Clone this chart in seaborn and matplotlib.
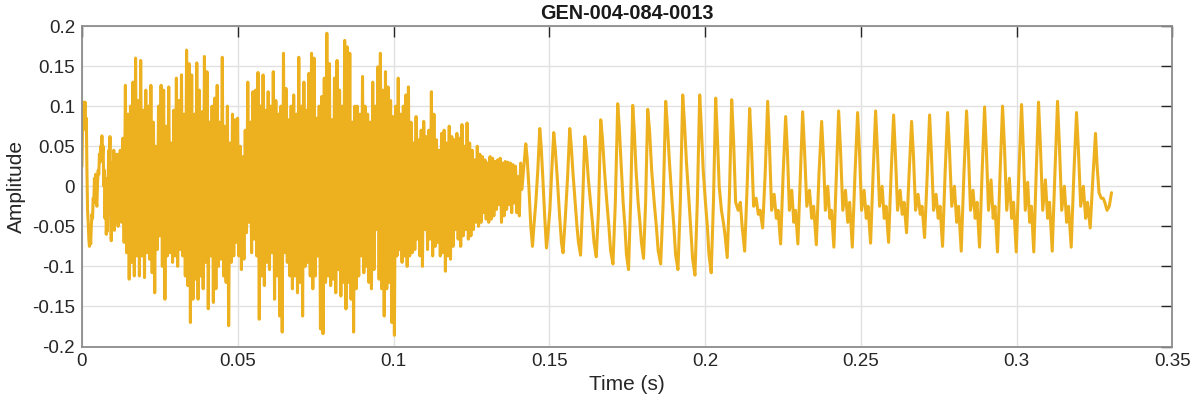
import numpy as np
import pandas as pd
import matplotlib
matplotlib.use("Agg")
import matplotlib.pyplot as plt
import seaborn as sns

# ---------------- data ----------------
TITLE = "GEN-004-084-0013"
X_LABEL = "Time (s)"
Y_LABEL = "Amplitude"
x_ticks = [0, 0.05, 0.1, 0.15, 0.2, 0.25, 0.3, 0.35]
x_tick_labels = ["0", "0.05", "0.1", "0.15", "0.2", "0.25", "0.3", "0.35"]
y_ticks = [-0.2, -0.15, -0.1, -0.05, 0, 0.05, 0.1, 0.15, 0.2]
y_tick_labels = ["-0.2", "-0.15", "-0.1", "-0.05", "0", "0.05", "0.1", "0.15", "0.2"]

# onset (0 - 0.012 s), one value every 0.2 ms
onset_step = 0.0002
onset_vals = [0.025, 0.08, 0.07, 0.105, 0.09, 0.105, 0.075, 0.085, 0.02, -0.03,
              -0.045, -0.065, -0.075, -0.06, -0.072, -0.05, -0.035, -0.04, -0.015, -0.02,
              0.01, -0.005, 0.015, -0.02, -0.025, 0.005, 0.02, 0.015, 0.04, 0.03,
              0.05, 0.045, 0.063, 0.04, 0.05, 0.0, 0.02, -0.04, 0.01, -0.06,
              -0.04, -0.056, 0.01, 0.045, 0.03, 0.062, -0.02, -0.068, 0.01, 0.03,
              -0.04, 0.045, -0.055, 0.035, -0.045, 0.04, -0.04, 0.03, -0.05, 0.04,
              -0.04]

# noisy burst (0.0123 - 0.141 s): successive positive peaks and negative troughs
burst_start = 0.0123
burst_end = 0.1412
burst_peaks = [0.045, 0.06, 0.126, 0.09, 0.10, 0.13, 0.16, 0.107, 0.157, 0.095,
               0.12, 0.10, 0.126, 0.08, 0.05, 0.10, 0.126, 0.12, 0.075, 0.124,
               0.054, 0.095, 0.135, 0.107, 0.139, 0.09, 0.17, 0.153, 0.139, 0.09,
               0.154, 0.12, 0.093, 0.162, 0.143, 0.08, 0.10, 0.11, 0.126, 0.08,
               0.161, 0.075, 0.10, 0.054, 0.09, 0.083, 0.085, 0.05, 0.037, 0.07, 0.13, 0.08,
               0.118, 0.12, 0.142, 0.10, 0.139, 0.095, 0.118, 0.10, 0.143, 0.107,
               0.09, 0.10, 0.166, 0.122, 0.083, 0.10, 0.114, 0.09, 0.161, 0.10,
               0.13, 0.095, 0.141, 0.166, 0.16, 0.085, 0.10, 0.112, 0.135, 0.191,
               0.153, 0.083, 0.135, 0.157, 0.12, 0.10, 0.182, 0.174, 0.166, 0.08,
               0.10, 0.10, 0.09, 0.137, 0.10, 0.09, 0.08, 0.13, 0.10, 0.149,
               0.166, 0.12, 0.143, 0.124, 0.107, 0.087, 0.10, 0.135, 0.09, 0.10,
               0.114, 0.124, 0.08, 0.054, 0.087, 0.058, 0.07, 0.081, 0.062, 0.07,
               0.118, 0.09, 0.058, 0.045, 0.066, 0.07, 0.054, 0.075, 0.062, 0.058,
               0.066, 0.06, 0.077, 0.05, 0.079, 0.054, 0.045, 0.033, 0.05, 0.04, 0.037, 0.033,
               0.029, 0.037, 0.035, 0.031, 0.033, 0.035, 0.029, 0.031, 0.03, 0.029, 0.027, 0.025,
               0.012, 0.029]
burst_troughs = [-0.045, -0.07, -0.083, -0.116, -0.095, -0.112, -0.087, -0.112, -0.087, -0.114,
                 -0.083, -0.091, -0.108, -0.133, -0.079, -0.062, -0.10, -0.141, -0.087, -0.083,
                 -0.095, -0.087, -0.10, -0.079, -0.087, -0.112, -0.124, -0.17, -0.141, -0.116,
                 -0.141, -0.112, -0.128, -0.095, -0.153, -0.087, -0.145, -0.128, -0.10, -0.091,
                 -0.112, -0.12, -0.174, -0.095, -0.087, -0.07, -0.087, -0.104, -0.091, -0.058,
                 -0.045, -0.083, -0.066, -0.087, -0.166, -0.112, -0.124, -0.095, -0.104, -0.083,
                 -0.141, -0.112, -0.162, -0.182, -0.083, -0.095, -0.112, -0.128, -0.112, -0.133,
                 -0.12, -0.162, -0.10, -0.095, -0.112, -0.128, -0.112, -0.087, -0.178, -0.184,
                 -0.12, -0.112, -0.124, -0.116, -0.133, -0.104, -0.137, -0.12, -0.153, -0.12,
                 -0.141, -0.182, -0.128, -0.112, -0.087, -0.108, -0.10, -0.12, -0.128, -0.104,
                 -0.054, -0.116, -0.128, -0.162, -0.128, -0.12, -0.17, -0.186, -0.087, -0.079,
                 -0.095, -0.087, -0.10, -0.087, -0.083, -0.079, -0.066, -0.087, -0.10, -0.054,
                 -0.079, -0.066, -0.087, -0.075, -0.07, -0.087, -0.083, -0.106, -0.087, -0.091,
                 -0.075, -0.054, -0.066, -0.075, -0.062, -0.054, -0.066, -0.062, -0.054, -0.045,
                 -0.05, -0.045, -0.033, -0.041, -0.045, -0.041, -0.037, -0.029, -0.023, -0.045,
                 -0.037, -0.029, -0.023, -0.033, -0.021, -0.033, -0.037, -0.004]

# voiced part: one entry per pitch cycle, values at fixed points of each cycle
cycle_peak_times = [0.14244, 0.14693, 0.15142, 0.15656, 0.16137, 0.16650, 0.17195, 0.17677,
                    0.18158, 0.18735, 0.19281, 0.19826, 0.20339, 0.20853, 0.21430, 0.22008,
                    0.22585, 0.23130, 0.23740, 0.24285, 0.24895, 0.25472, 0.26050, 0.26627,
                    0.27205, 0.27782, 0.28391, 0.28969, 0.29546, 0.30156, 0.30701, 0.31311,
                    0.31920, 0.32530]
signal_end_time = 0.33043
signal_end_val = -0.008
cycle_phase = [0.0, 0.10, 0.22, 0.36, 0.48, 0.58, 0.72, 0.86]
cycle_peak = [0.053, 0.072, 0.067, 0.072, 0.062, 0.083, 0.103, 0.101, 0.096, 0.106,
              0.114, 0.114, 0.110, 0.108, 0.097, 0.106, 0.087, 0.093, 0.081, 0.094,
              0.092, 0.094, 0.089, 0.081, 0.089, 0.092, 0.094, 0.099, 0.100, 0.102,
              0.105, 0.106, 0.092, 0.066]
cycle_fall = [0.035, 0.05, 0.045, 0.05, 0.045, 0.06, 0.075, 0.07, 0.07, 0.075,
              0.08, 0.075, 0.065, 0.06, 0.05, 0.05, 0.045, 0.045, 0.04, 0.045,
              0.045, 0.045, 0.04, 0.04, 0.04, 0.045, 0.045, 0.045, 0.05, 0.05,
              0.05, 0.05, 0.045, 0.025]
cycle_shoulder = [0.0, 0.01, 0.01, 0.015, 0.01, 0.02, 0.03, 0.02, 0.02, 0.03,
                  0.03, 0.02, 0.0, -0.02, -0.025, -0.03, -0.03, -0.025, -0.03, -0.03,
                  -0.03, -0.025, -0.03, -0.03, -0.03, -0.025, -0.03, -0.03, -0.03, -0.03,
                  -0.03, -0.03, -0.025, -0.008]
cycle_bump = [-0.05, -0.04, -0.035, -0.02, -0.02, -0.02, -0.02, -0.02, -0.02, -0.015,
              -0.015, -0.02, -0.03, -0.03, -0.015, -0.01, -0.005, -0.005, 0.0, -0.005,
              -0.005, 0.0, -0.005, -0.01, -0.01, 0.0, -0.005, 0.008, 0.01, 0.005,
              0.008, 0.0, 0.0, -0.015]
cycle_dip = [-0.075, -0.077, -0.07, -0.05, -0.045, -0.05, -0.05, -0.045, -0.05, -0.05,
             -0.055, -0.05, -0.045, -0.02, -0.035, -0.04, -0.045, -0.04, -0.04, -0.045,
             -0.04, -0.04, -0.035, -0.035, -0.04, -0.045, -0.04, -0.04, -0.04, -0.045,
             -0.04, -0.045, -0.04, -0.015]
cycle_bump2 = [-0.05, -0.06, -0.083, -0.07, -0.07, -0.08, -0.085, -0.07, -0.08, -0.085,
               -0.09, -0.085, -0.06, -0.05, -0.03, -0.03, -0.03, -0.025, -0.03, -0.02,
               -0.025, -0.025, -0.02, -0.025, -0.025, -0.025, -0.02, -0.025, -0.02, -0.025,
               -0.02, -0.025, -0.02, -0.02]
cycle_trough = [-0.02, -0.03, -0.04, -0.086, -0.088, -0.097, -0.104, -0.090, -0.097, -0.104,
                -0.111, -0.108, -0.089, -0.081, -0.052, -0.072, -0.072, -0.073, -0.076, -0.076,
                -0.071, -0.070, -0.058, -0.064, -0.075, -0.081, -0.076, -0.082, -0.082, -0.082,
                -0.081, -0.076, -0.052, -0.03]
cycle_rise = [0.02, 0.02, 0.01, -0.02, -0.03, -0.02, -0.02, -0.02, -0.02, -0.02,
              -0.02, -0.02, -0.01, 0.0, 0.015, 0.015, 0.01, 0.015, 0.01, 0.015,
              0.015, 0.015, 0.015, 0.01, 0.015, 0.015, 0.015, 0.015, 0.015, 0.015,
              0.015, 0.015, 0.01, -0.025]

LINE_COLOR = "#EDB120"

# ---------------- assemble the waveform ----------------
t_parts, v_parts = [], []
t_parts.append(np.arange(len(onset_vals)) * onset_step)
v_parts.append(np.array(onset_vals))

# burst: strictly alternate peak / trough, evenly spaced in time
n_pairs = min(len(burst_peaks), len(burst_troughs))
vb = np.empty(2 * n_pairs)
vb[0::2] = burst_peaks[:n_pairs]
vb[1::2] = burst_troughs[:n_pairs]
tb = np.linspace(burst_start, burst_end, 2 * n_pairs)
t_parts.append(tb)
v_parts.append(vb)

cyc_arrays = [cycle_peak, cycle_fall, cycle_shoulder, cycle_bump, cycle_dip,
              cycle_bump2, cycle_trough, cycle_rise]
bounds = list(cycle_peak_times) + [signal_end_time]
ct, cv = [], []
for i in range(len(cycle_peak_times)):
    t0, t1 = bounds[i], bounds[i + 1]
    for ph, arr in zip(cycle_phase, cyc_arrays):
        ct.append(t0 + ph * (t1 - t0))
        cv.append(arr[i])
ct.append(signal_end_time)
cv.append(signal_end_val)
t_parts.append(np.array(ct))
v_parts.append(np.array(cv))

df = pd.DataFrame({"Time": np.concatenate(t_parts), "Amplitude": np.concatenate(v_parts)})

# ---------------- draw ----------------
sns.set_theme(style="white")
plt.rcParams["font.family"] = ["Liberation Sans", "DejaVu Sans"]
plt.rcParams["path.simplify"] = False

fig = plt.figure(figsize=(11.93, 4.04), dpi=100, facecolor="white")
ax = fig.add_axes([0.0687, 0.1423, 0.9141, 0.7933])
ax.set_facecolor("white")

sns.lineplot(data=df, x="Time", y="Amplitude", color=LINE_COLOR, linewidth=2.2,
             sort=False, estimator=None, ax=ax, zorder=3)

ax.set_xlim(0, 0.35)
ax.set_ylim(-0.2, 0.2)
ax.set_xticks(x_ticks)
ax.set_xticklabels(x_tick_labels)
ax.set_yticks(y_ticks)
ax.set_yticklabels(y_tick_labels)
ax.grid(True, color="#e1e1e1", linewidth=1.0, zorder=0)
ax.set_axisbelow(True)
ax.tick_params(direction="in", length=8, width=1.0, colors="#262626",
               top=True, right=True, labelsize=13.5, pad=5)
for sp in ax.spines.values():
    sp.set_visible(True)
    sp.set_color("#8c8c8c")
    sp.set_linewidth(1.3)
    sp.set_zorder(4)

ax.set_title(TITLE, fontsize=14.3, fontweight="bold", color="#1a1a1a", pad=5)
ax.set_xlabel(X_LABEL, fontsize=15, color="#262626", labelpad=3)
ax.set_ylabel(Y_LABEL, fontsize=15, color="#262626", labelpad=4)

fig.savefig("out.png", dpi=100, facecolor="white")
